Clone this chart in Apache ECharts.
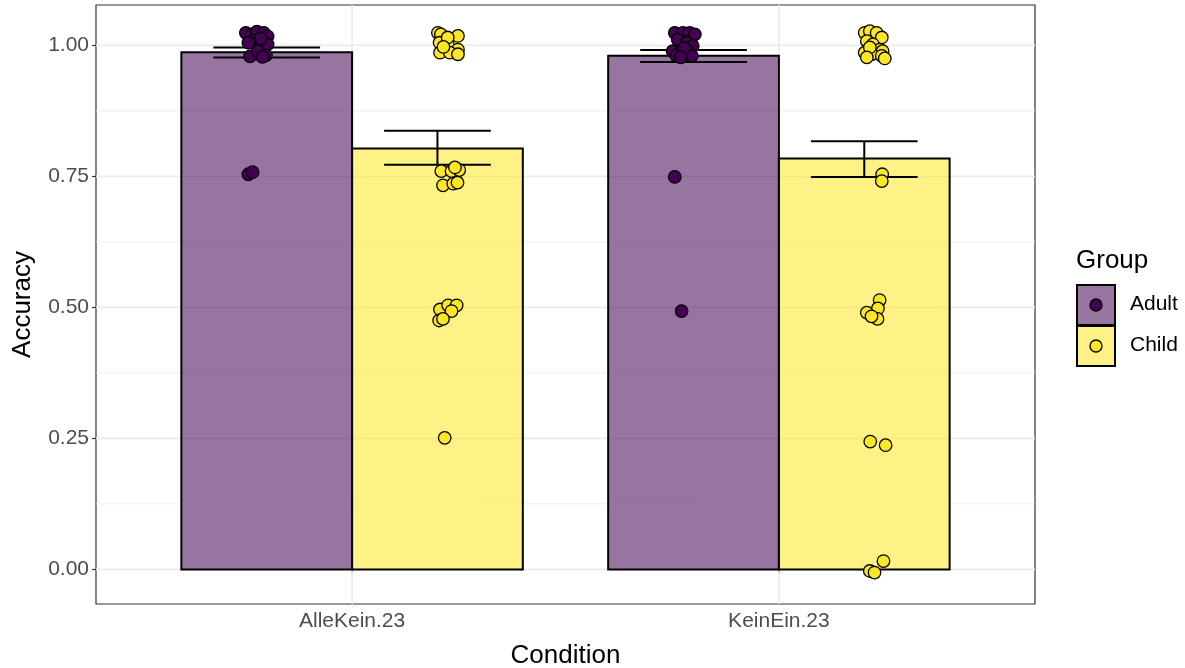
<!DOCTYPE html>
<html>
<head>
<meta charset="utf-8">
<script src="https://cdn.jsdelivr.net/npm/echarts@6/dist/echarts.min.js"></script>
<style>
html,body{margin:0;padding:0;background:#fff;}
#chart{width:1185px;height:668px;}
</style>
</head>
<body>
<div id="chart"></div>
<script>
// ---------- data ----------
const conditions = ['AlleKein.23', 'KeinEin.23'];
const groups = ['Adult', 'Child'];
const conditionPos = [1, 2];
const meanAdult = [0.987, 0.980];
const meanChild = [0.803, 0.784];
const errLowAdult = [0.977, 0.968];
const errHighAdult = [0.996, 0.991];
const errLowChild = [0.772, 0.749];
const errHighChild = [0.837, 0.817];
const yTicks = [0, 0.25, 0.5, 0.75, 1];
const yMinorTicks = [0.125, 0.375, 0.625, 0.875];

// jittered individual points [x position, accuracy]
const adultPoints = [
  [0.751,1.024],[0.765,1.021],[0.777,1.026],[0.793,1.024],[0.802,1.017],[0.770,1.010],[0.777,1.000],
  [0.793,0.994],[0.802,1.002],[0.761,0.979],[0.798,0.981],[0.779,0.989],[0.786,1.013],[0.757,1.005],
  [0.790,0.978],[0.757,0.754],[0.767,0.758],
  [1.756,1.024],[1.775,1.024],[1.791,1.024],[1.803,1.021],[1.763,1.011],[1.784,1.005],[1.798,0.999],
  [1.751,0.989],[1.768,0.986],[1.787,0.989],[1.760,0.980],[1.796,0.980],[1.778,0.995],[1.770,0.977],
  [1.756,0.749],[1.772,0.493]
];
const childPoints = [
  [1.201,1.024],[1.208,1.021],[1.248,1.018],[1.205,1.005],[1.224,1.002],[1.248,0.992],[1.206,0.986],
  [1.229,0.986],[1.248,0.983],[1.224,1.015],[1.214,0.997],
  [1.209,0.760],[1.233,0.760],[1.251,0.762],[1.241,0.767],[1.213,0.733],[1.237,0.736],[1.247,0.738],
  [1.206,0.496],[1.225,0.504],[1.245,0.504],[1.233,0.493],[1.204,0.475],[1.213,0.478],[1.217,0.251],
  [2.201,1.024],[2.213,1.027],[2.229,1.024],[2.241,1.015],[2.206,1.008],[2.220,1.002],[2.236,0.992],
  [2.243,0.989],[2.201,0.986],[2.217,0.983],[2.241,0.980],[2.213,0.996],[2.248,0.975],[2.206,0.977],
  [2.242,0.754],[2.241,0.741],
  [2.236,0.514],[2.232,0.498],[2.206,0.490],[2.231,0.478],[2.217,0.483],
  [2.214,0.244],[2.250,0.237],
  [2.245,0.016],[2.213,-0.003],[2.224,-0.006]
];

// ---------- styling ----------
const fillColors = ['rgba(68,1,84,0.55)', 'rgba(253,231,37,0.55)'];
const pointColors = ['#440154', '#FDE725'];
const dodge = [-0.2, 0.2];
const halfBar = 0.2;
const halfCap = 0.125;
const FONT = '"Liberation Sans", Arial, Helvetica, sans-serif';

function hGrid(values, width) {
  return {
    type: 'custom', silent: true, z: 1,
    data: values.map(v => [1, v]),
    encode: { x: 0, y: 1 },
    renderItem: (params, api) => {
      const cs = params.coordSys;
      const p = api.coord([1, api.value(1)]);
      return { type: 'line', shape: { x1: cs.x, y1: p[1], x2: cs.x + cs.width, y2: p[1] },
        style: { stroke: '#EBEBEB', lineWidth: width } };
    }
  };
}
const vGrid = {
  type: 'custom', silent: true, z: 1,
  data: conditionPos.map(x => [x, 0]),
  encode: { x: 0, y: 1 },
  renderItem: (params, api) => {
    const cs = params.coordSys;
    const p = api.coord([api.value(0), 0]);
    return { type: 'line', shape: { x1: p[0], y1: cs.y, x2: p[0], y2: cs.y + cs.height },
      style: { stroke: '#EBEBEB', lineWidth: 1.7 } };
  }
};

function barSeries(gi, means) {
  return {
    type: 'custom', name: groups[gi], z: 2,
    data: conditionPos.map((x, i) => [x + dodge[gi], means[i]]),
    encode: { x: 0, y: 1 },
    renderItem: (params, api) => {
      const x = api.value(0), v = api.value(1);
      const p1 = api.coord([x - halfBar, v]);
      const p2 = api.coord([x + halfBar, 0]);
      return { type: 'rect', shape: { x: p1[0], y: p1[1], width: p2[0] - p1[0], height: p2[1] - p1[1] },
        style: { fill: fillColors[gi], stroke: '#000', lineWidth: 2 } };
    }
  };
}
function errSeries(gi, lows, highs) {
  return {
    type: 'custom', z: 3, silent: true,
    data: conditionPos.map((x, i) => [x + dodge[gi], lows[i], highs[i]]),
    encode: { x: 0, y: [1, 2] },
    renderItem: (params, api) => {
      const x = api.value(0);
      const lo = api.coord([x, api.value(1)]);
      const hi = api.coord([x, api.value(2)]);
      const l = api.coord([x - halfCap, 0])[0];
      const r = api.coord([x + halfCap, 0])[0];
      const st = { stroke: '#000', lineWidth: 2 };
      return { type: 'group', children: [
        { type: 'line', shape: { x1: lo[0], y1: lo[1], x2: hi[0], y2: hi[1] }, style: st },
        { type: 'line', shape: { x1: l, y1: lo[1], x2: r, y2: lo[1] }, style: st },
        { type: 'line', shape: { x1: l, y1: hi[1], x2: r, y2: hi[1] }, style: st }
      ] };
    }
  };
}
function pointSeries(gi, pts) {
  return {
    type: 'scatter', z: 4, data: pts, symbol: 'circle', symbolSize: 12.5,
    itemStyle: { color: pointColors[gi], borderColor: '#000', borderWidth: 1.3, opacity: 1 }
  };
}

// legend drawn as graphics
const legendX = 1077, legendKeyTop = 285, keyW = 38, keyH = 40;
const legendGraphics = [
  { type: 'text', left: 1076, top: 248, style: { text: 'Group', font: '26px ' + FONT, fill: '#000' } }
];
groups.forEach((g, i) => {
  const top = legendKeyTop + i * (keyH + 1);
  legendGraphics.push(
    { type: 'rect', shape: { x: legendX, y: top, width: keyW, height: keyH },
      style: { fill: fillColors[i], stroke: '#000', lineWidth: 2 } },
    { type: 'circle', shape: { cx: legendX + keyW / 2, cy: top + keyH / 2, r: 6 },
      style: { fill: pointColors[i], stroke: '#000', lineWidth: 1.3 } },
    { type: 'text', left: 1130, top: top + keyH / 2 - 11, style: { text: g, font: '21px ' + FONT, fill: '#000' } }
  );
});

const chart = echarts.init(document.getElementById('chart'), null, { renderer: 'canvas' });
chart.setOption({
  animation: false,
  backgroundColor: '#fff',
  grid: { left: 96, right: 150, top: 5, bottom: 64, outerBoundsMode: 'none', containLabel: false,
    show: true, borderColor: '#333', borderWidth: 1.2, backgroundColor: 'transparent' },
  xAxis: {
    type: 'value', min: 0.4, max: 2.6,
    name: 'Condition', nameLocation: 'middle', nameGap: 39,
    nameTextStyle: { fontFamily: FONT, fontSize: 26, color: '#000' },
    axisLine: { show: false },
    axisTick: { show: true, length: 4, lineStyle: { color: '#333', width: 1.2 }, customValues: conditionPos },
    axisLabel: { customValues: conditionPos, formatter: v => conditions[conditionPos.indexOf(v)] || '',
      fontFamily: FONT, fontSize: 21, color: '#4D4D4D', margin: 7 },
    splitLine: { show: false }
  },
  yAxis: {
    type: 'value', min: -0.066, max: 1.077,
    name: 'Accuracy', nameLocation: 'middle', nameGap: 60, nameRotate: 90,
    nameTextStyle: { fontFamily: FONT, fontSize: 26, color: '#000' },
    axisLine: { show: false },
    axisTick: { show: true, length: 4, lineStyle: { color: '#333', width: 1.2 }, customValues: yTicks },
    axisLabel: { customValues: yTicks, formatter: v => v.toFixed(2),
      fontFamily: FONT, fontSize: 21, color: '#4D4D4D', margin: 7 },
    splitLine: { show: false }
  },
  series: [
    hGrid(yMinorTicks, 0.85),
    hGrid(yTicks, 1.7),
    vGrid,
    barSeries(0, meanAdult),
    barSeries(1, meanChild),
    errSeries(0, errLowAdult, errHighAdult),
    errSeries(1, errLowChild, errHighChild),
    pointSeries(0, adultPoints),
    pointSeries(1, childPoints)
  ],
  graphic: legendGraphics
});
</script>
</body>
</html>
